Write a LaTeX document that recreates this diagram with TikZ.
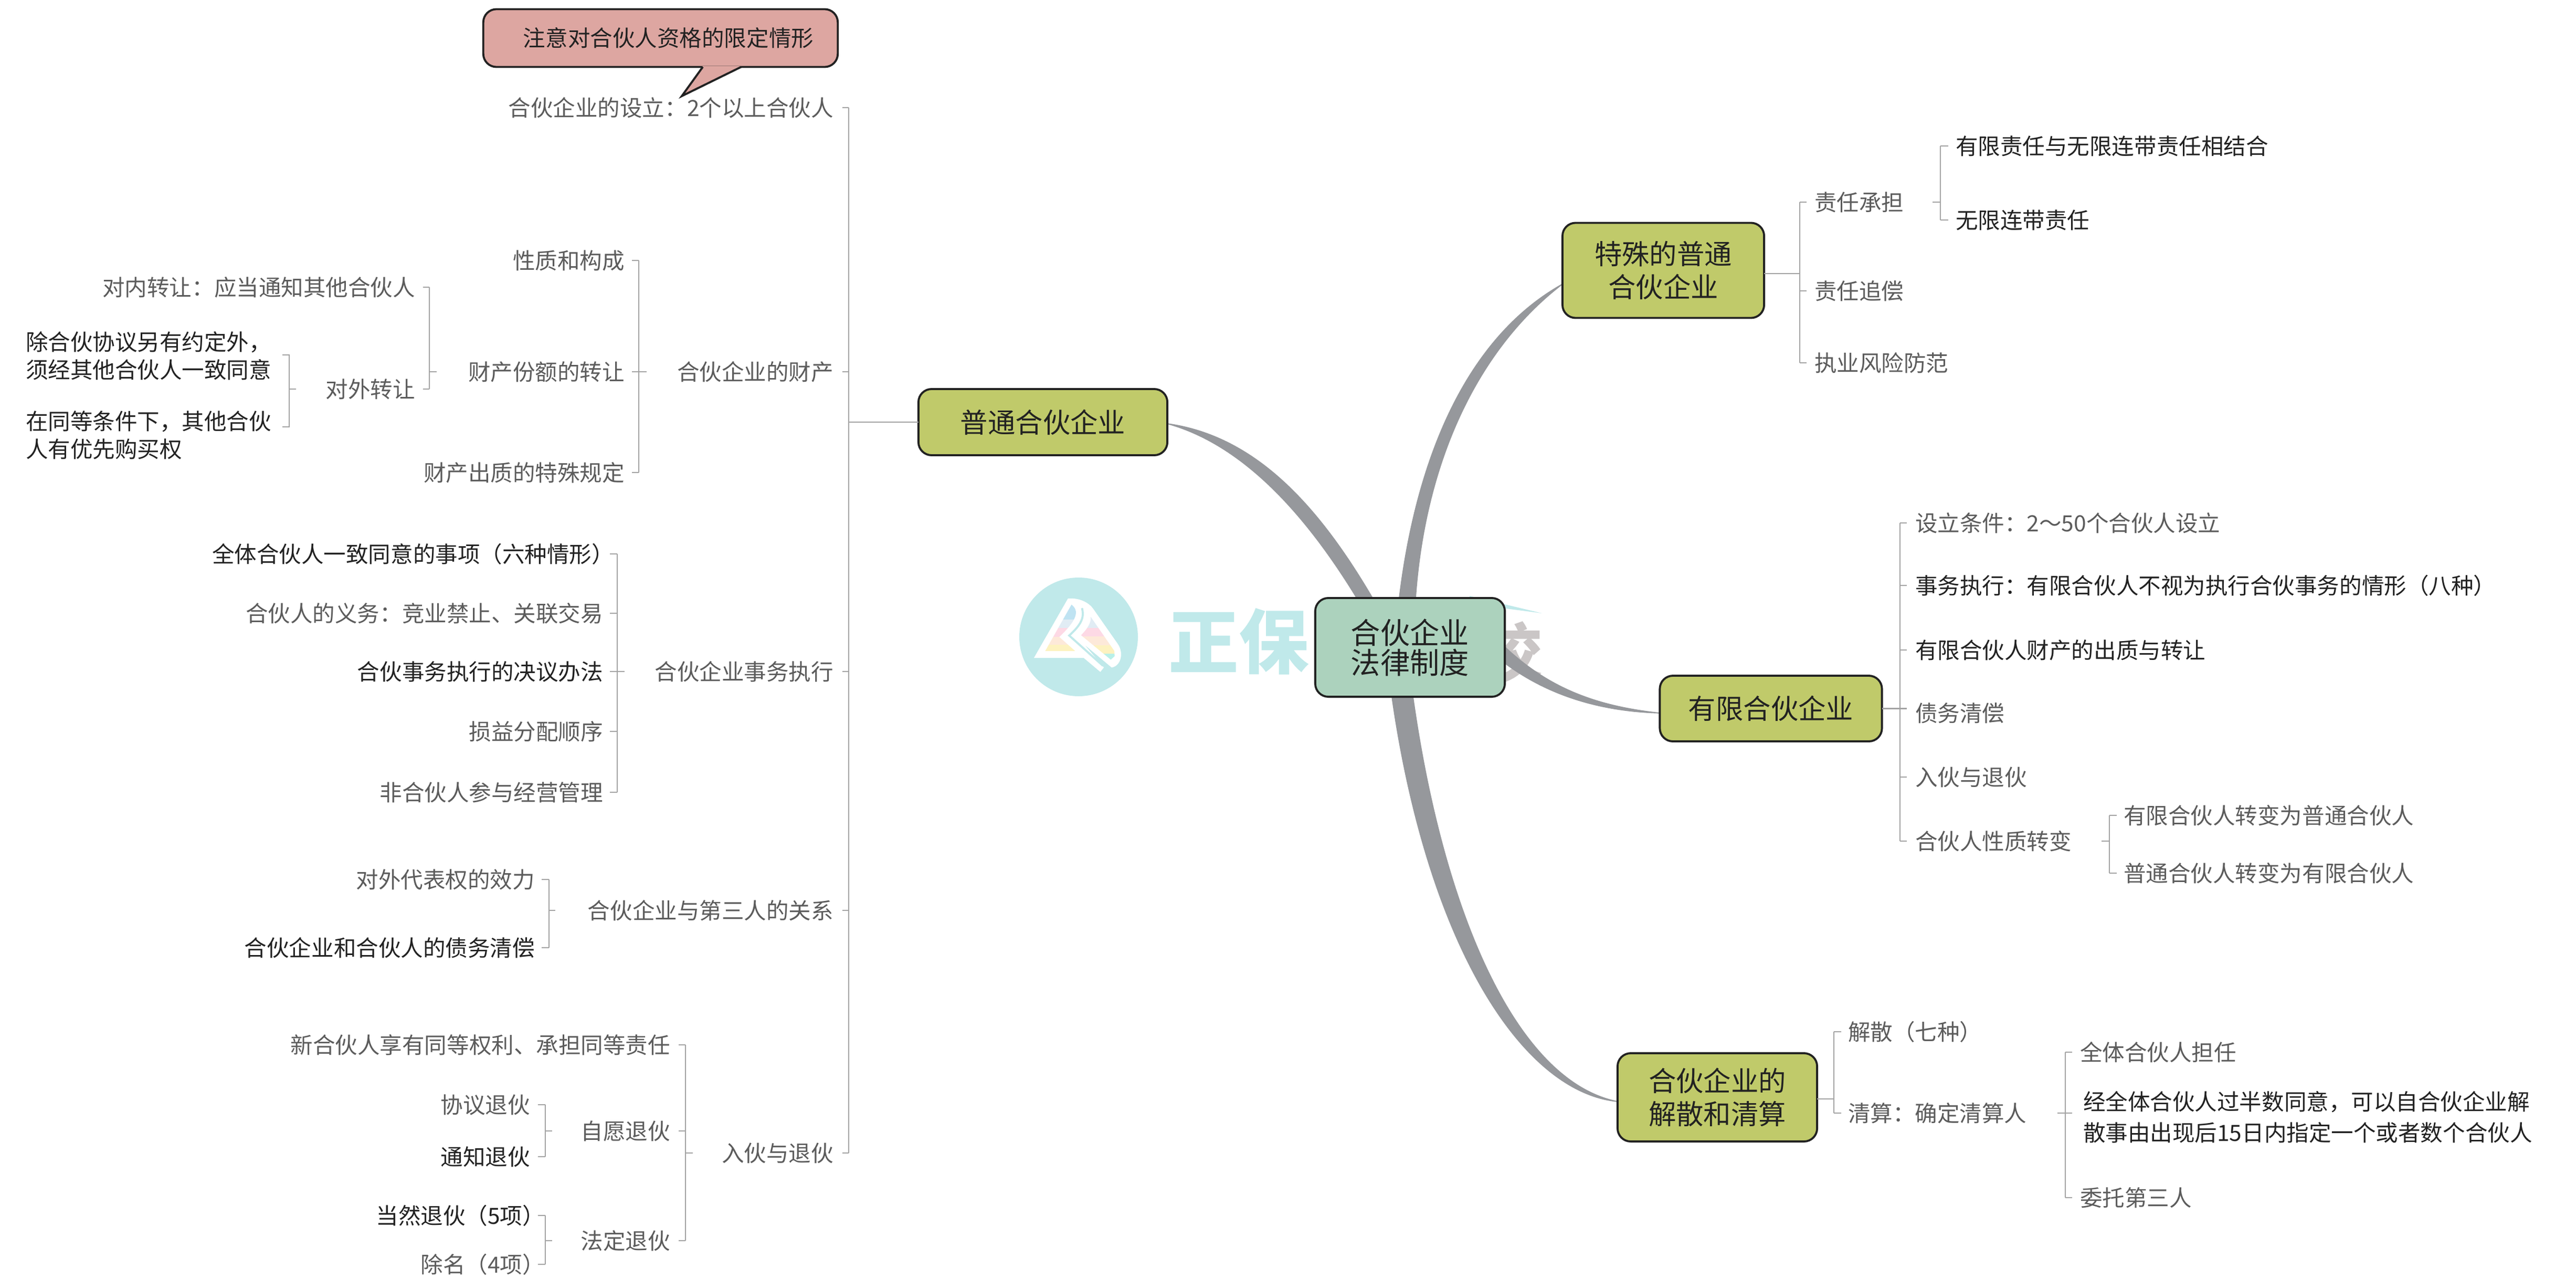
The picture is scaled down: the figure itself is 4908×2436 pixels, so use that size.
\documentclass[tikz,border=0pt]{standalone}
\usepackage{fontspec}
\setmainfont{Noto Sans CJK SC}
\pgfdeclarelayer{bg}
\pgfsetlayers{bg,main}
\definecolor{oliveb}{HTML}{C0CA6A}
\definecolor{rootb}{HTML}{ACD2BD}
\definecolor{noteb}{HTML}{DDA6A1}
\definecolor{edgeb}{HTML}{222222}
\definecolor{curveg}{HTML}{96989C}
\definecolor{linkg}{HTML}{A3A3A3}
\definecolor{wmc}{HTML}{C0E9EA}
\definecolor{wmg}{HTML}{CAC6C6}
\definecolor{lighttxt}{HTML}{5C5C5C}
\definecolor{darktxt}{HTML}{222222}
\definecolor{bandA}{HTML}{BFE3F2}
\definecolor{bandB}{HTML}{E1ECF4}
\definecolor{bandC}{HTML}{FDD9E5}
\definecolor{bandD}{HTML}{FDE9D9}
\definecolor{bandE}{HTML}{FDF2C0}
\definecolor{bandF}{HTML}{B9F0E8}
\tikzset{
  link/.style={draw=linkg,line width=.75pt},
  curve/.style={fill=curveg,draw=curveg,line width=.5pt},
  base/.style={inner sep=0pt,outer sep=0pt,font=\fontsize{12.1}{15}\selectfont,text height=.34cm,text depth=.02cm},
  le/.style={base,text=lighttxt,anchor=east},
  de/.style={base,text=darktxt,anchor=east},
  lw/.style={base,text=lighttxt,anchor=west},
  dw/.style={base,text=darktxt,anchor=west},
  box/.style={draw=edgeb,line width=1.1pt,rounded corners=.25cm,inner sep=0pt,outer sep=0pt,align=center,text=darktxt},
  branch/.style={box,fill=oliveb,font=\fontsize{14.9}{17.9}\selectfont},
  rootbox/.style={box,fill=rootb,font=\fontsize{16}{16.2}\selectfont},
  notebox/.style={box,fill=noteb,font=\fontsize{12.1}{15}\selectfont},
}
% spine, stub tip x-offset list: draw stubs to the left of a spine for children, to the right for the parent
\newcommand{\lbr}[3]{%
  \draw[link] (#3.east -| #1) -- (#2.east -| #1);
}
\begin{document}
\begin{tikzpicture}[x=.01cm,y=-.01cm]
\useasboundingbox (0,0) rectangle (4908,2436);
% ---------- boxes
\node[rootbox,minimum width=3.61cm,minimum height=1.88cm] (root) at (2686.5,1233) {合伙企业\\法律制度};
\node[branch,minimum width=4.74cm,minimum height=1.26cm] (gen) at (1987,804) {普通合伙企业};
\node[branch,minimum width=3.84cm,minimum height=1.81cm] (spec) at (3169,515) {特殊的普通\\合伙企业};
\node[branch,minimum width=4.23cm,minimum height=1.25cm] (ltd) at (3374,1349.5) {有限合伙企业};
\node[branch,minimum width=3.80cm,minimum height=1.68cm] (diss) at (3272,2090) {合伙企业的\\解散和清算};
% ---------- left level 1
\node[le] (a1) at (1588,205) {合伙企业的设立：2个以上合伙人};
\node[le] (a2) at (1588,708) {合伙企业的财产};
\node[le] (a3) at (1588,1279) {合伙企业事务执行};
\node[le] (a4) at (1588,1734) {合伙企业与第三人的关系};
\node[le] (a5) at (1588,2196) {入伙与退伙};
% callout
\node[notebox,minimum width=6.75cm,minimum height=1.10cm] (note) at (1258.5,72.5) {\hspace{.3cm}注意对合伙人资格的限定情形};
% property
\node[le] (b1) at (1190,496) {性质和构成};
\node[le] (b2) at (1190,708) {财产份额的转让};
\node[le] (b3) at (1190,900) {财产出质的特殊规定};
\node[le] (c1) at (791,547) {对内转让：应当通知其他合伙人};
\node[le] (c2) at (791,741) {对外转让};
\node[dw,align=left,text height=,text depth=] (d1) at (49,678) {除合伙协议另有约定外，\\须经其他合伙人一致同意};
\node[dw,align=left,text height=,text depth=] (d2) at (49,829) {在同等条件下，其他合伙\\人有优先购买权};
% affairs
\node[de] (e1) at (1170,1055) {全体合伙人一致同意的事项（六种情形）};
\node[le] (e2) at (1149,1168) {合伙人的义务：竞业禁止、关联交易};
\node[de] (e3) at (1149,1279) {合伙事务执行的决议办法};
\node[le] (e4) at (1149,1393) {损益分配顺序};
\node[le] (e5) at (1149,1509) {非合伙人参与经营管理};
% third party
\node[le] (f1) at (1019,1675) {对外代表权的效力};
\node[de] (f2) at (1019,1805) {合伙企业和合伙人的债务清偿};
% entry / exit
\node[le] (g1) at (1277,1990) {新合伙人享有同等权利、承担同等责任};
\node[le] (g2) at (1277,2154) {自愿退伙};
\node[le] (g3) at (1277,2363) {法定退伙};
\node[le] (h1) at (1010,2104) {协议退伙};
\node[de] (h2) at (1010,2203) {通知退伙};
\node[de] (i1) at (1038,2315) {当然退伙（5项）};
\node[le] (i2) at (1038,2408) {除名（4项）};
% ---------- right: special
\node[lw] (s1) at (3457,385) {责任承担};
\node[lw] (s2) at (3457,554) {责任追偿};
\node[lw] (s3) at (3457,691) {执业风险防范};
\node[dw] (s4) at (3726,278) {有限责任与无限连带责任相结合};
\node[dw] (s5) at (3726,419) {无限连带责任};
% ---------- right: limited
\node[lw] (t1) at (3649,996) {设立条件：2～50个合伙人设立};
\node[dw] (t2) at (3649,1115) {事务执行：有限合伙人不视为执行合伙事务的情形（八种）};
\node[dw] (t3) at (3649,1238) {有限合伙人财产的出质与转让};
\node[lw] (t4) at (3649,1358) {债务清偿};
\node[lw] (t5) at (3649,1480) {入伙与退伙};
\node[lw] (t6) at (3649,1602) {合伙人性质转变};
\node[lw] (t7) at (4046,1553) {有限合伙人转变为普通合伙人};
\node[lw] (t8) at (4046,1663) {普通合伙人转变为有限合伙人};
% ---------- right: dissolution
\node[lw] (u1) at (3521,1965) {解散（七种）};
\node[lw] (u2) at (3521,2120) {清算：确定清算人};
\node[lw] (u3) at (3963,2004) {全体合伙人担任};
\node[dw,align=left,font=\fontsize{12.1}{16.8}\selectfont,text height=,text depth=] (u4) at (3969,2128) {经全体合伙人过半数同意，可以自合伙企业解\\散事由出现后15日内指定一个或者数个合伙人};
\node[lw] (u5) at (3963,2281) {委托第三人};
% ---------- callout tail
\fill[noteb] (1339,126) -- (1299,183) -- (1412,126) -- cycle;
\draw[edgeb,line width=1.1pt,line join=miter] (1339,127.5) -- (1299,183) -- (1412,127.5);
% ---------- tree links, left
\coordinate (sp0) at (1617,0);
\draw[link] (a1.east -| sp0) -- (a5.east -| sp0);
\foreach \c in {a1,a2,a3,a4,a5}{\draw[link] (\c.east -| sp0) -- ++(-12,0);}
\draw[link] (gen.west) -- (gen.west -| sp0);
\coordinate (sp1) at (1217,0);
\draw[link] (b1.east -| sp1) -- (b3.east -| sp1);
\foreach \c in {b1,b2,b3}{\draw[link] (\c.east -| sp1) -- ++(-13,0);}
\draw[link] (a2.east -| sp1) -- ++(15,0);
\coordinate (sp2) at (818,0);
\draw[link] (c1.east -| sp2) -- (c2.east -| sp2);
\foreach \c in {c1,c2}{\draw[link] (\c.east -| sp2) -- ++(-12,0);}
\draw[link] (b2.east -| sp2) -- ++(14,0);
\coordinate (sp3) at (551,0);
\draw[link] (c2.east -| sp3) -- ++(13,0);
\coordinate (d1s) at (538,676);
\coordinate (d2s) at (538,813);
\draw[link] (d1s) -| (sp3 |- c2.east) |- (d2s);
\coordinate (sp4) at (1176,0);
\draw[link] (e1.east -| sp4) -- (e5.east -| sp4);
\foreach \c in {e1,e2,e3,e4,e5}{\draw[link] (\c.east -| sp4) -- ++(-14,0);}
\draw[link] (a3.east -| sp4) -- ++(14,0);
\coordinate (sp5) at (1046,0);
\draw[link] (f1.east -| sp5) -- (f2.east -| sp5);
\foreach \c in {f1,f2}{\draw[link] (\c.east -| sp5) -- ++(-14,0);}
\draw[link] (a4.east -| sp5) -- ++(12,0);
\coordinate (sp6) at (1306,0);
\draw[link] (g1.east -| sp6) -- (g3.east -| sp6);
\foreach \c in {g1,g2,g3}{\draw[link] (\c.east -| sp6) -- ++(-13,0);}
\draw[link] (a5.east -| sp6) -- ++(14,0);
\coordinate (sp7) at (1039,0);
\draw[link] (h1.east -| sp7) -- (h2.east -| sp7);
\foreach \c in {h1,h2}{\draw[link] (\c.east -| sp7) -- ++(-14,0);}
\draw[link] (g2.east -| sp7) -- ++(13,0);
\draw[link] (i1.east -| sp7) -- (i2.east -| sp7);
\foreach \c in {i1,i2}{\draw[link] (\c.east -| sp7) -- ++(-14,0);}
\draw[link] (g3.east -| sp7) -- ++(13,0);
% ---------- tree links, right
\coordinate (sq0) at (3429,0);
\draw[link] (s1.west -| sq0) -- (s3.west -| sq0);
\foreach \c in {s1,s2,s3}{\draw[link] (\c.west -| sq0) -- ++(13,0);}
\draw[link] ([yshift=-.06cm]spec.east) -- ([yshift=-.06cm]spec.east -| sq0);
\coordinate (sq1) at (3697,0);
\draw[link] (s4.west -| sq1) -- (s5.west -| sq1);
\foreach \c in {s4,s5}{\draw[link] (\c.west -| sq1) -- ++(15,0);}
\draw[link] (s1.east -| sq1) -- ++(-15,0);
\coordinate (sq2) at (3620,0);
\draw[link] (t1.west -| sq2) -- (t6.west -| sq2);
\foreach \c in {t1,t2,t3,t5,t6}{\draw[link] (\c.west -| sq2) -- ++(13,0);}
\draw[link] (ltd.east) -- (ltd.east -| sq2) -- ++(13,0);
\coordinate (sq3) at (4019,0);
\draw[link] (t7.west -| sq3) -- (t8.west -| sq3);
\foreach \c in {t7,t8}{\draw[link] (\c.west -| sq3) -- ++(14,0);}
\draw[link] (t6.east -| sq3) -- ++(-15,0);
\coordinate (sq4) at (3494,0);
\draw[link] (u1.west -| sq4) -- (u2.west -| sq4);
\foreach \c in {u1,u2}{\draw[link] (\c.west -| sq4) -- ++(14,0);}
\draw[link] ([yshift=-.03cm]diss.east) -- ([yshift=-.03cm]diss.east -| sq4);
\coordinate (sq5) at (3935,0);
\draw[link] (u3.west -| sq5) -- (u5.west -| sq5);
\foreach \c in {u3,u5}{\draw[link] (\c.west -| sq5) -- ++(13,0);}
\draw[link] (u2.west -| sq5) ++(-15,0) -- ++(28,0);
% ---------- background: watermark and tapered branches
\begin{pgfonlayer}{bg}
  \fill[wmc] (2055,1213) circle[radius=113];
  \begin{scope}[shift={(1920,1080)},x=.00333cm,y=-.00333cm]
    \fill[white] (150,520) -- (345,180) .. controls (420,175) and (470,210) .. (490,240)
      -- (630,440) .. controls (665,490) and (650,565) .. (595,575) -- (440,445)
      -- (550,575) -- (530,600) -- (435,520) -- cycle;
    \begin{scope}
      \clip (365,215) .. controls (410,250) and (400,300) .. (295,400) -- (385,480) -- (215,480) -- cycle;
      \fill[bandA] (150,200) rectangle (450,300);
      \fill[bandB] (150,300) rectangle (450,350);
      \fill[bandC] (150,350) rectangle (450,400);
      \fill[bandD] (150,400) rectangle (450,445);
      \fill[bandE] (150,445) rectangle (450,490);
    \end{scope}
    \begin{scope}
      \clip (475,285) -- (610,480) -- (612,510) -- (590,530) -- (420,390) .. controls (450,360) and (480,320) .. cycle;
      \fill[bandB] (400,280) rectangle (650,350);
      \fill[bandC] (400,350) rectangle (650,398);
      \fill[bandD] (400,398) rectangle (650,448);
      \fill[bandE] (400,448) rectangle (650,495);
      \fill[bandF] (400,495) rectangle (650,540);
    \end{scope}
    \draw[wmc,line width=1.1pt] (545,565) -- (352,392) .. controls (420,330) and (440,290) .. (425,235);
  \end{scope}
  \node[font=\fontsize{38}{40}\selectfont\bfseries,text=wmc,inner sep=0pt] (wm1) at (2360,1222) {正保};
  \node[font=\fontsize{34}{36}\selectfont\bfseries,text=wmg,inner sep=0pt] (wm2) at (2878,1241) {校};
  \fill[wmc] (2800,1135) -- (2938,1168) -- (2800,1150) -- cycle;
  % tapered curves from the root
  \coordinate (geA) at ([yshift=-.03cm]gen.east);
  \path[curve] (geA) .. controls (2390,830) and (2510,960) .. (2615,1139) -- (root.center) -- (2585,1139) .. controls (2500,1000) and (2380,850) .. (geA) -- cycle;
  \coordinate (spA) at (2977,541);
  \path[curve] (spA) .. controls (2800,640) and (2700,860) .. (2666,1139) -- (root.center) -- (2697,1139) .. controls (2715,880) and (2815,665) .. (spA) -- cycle;
  \coordinate (ltA) at (3162,1358);
  \path[curve] (ltA) .. controls (3040,1345) and (2950,1310) .. (2867,1232) -- (root.center) -- (2867,1263) .. controls (2950,1325) and (3050,1355) .. (ltA) -- cycle;
  \coordinate (diA) at (3082,2098);
  \path[curve] (diA) .. controls (2900,2080) and (2720,1800) .. (2652,1327) -- (root.center) -- (2692,1327) .. controls (2750,1740) and (2890,2060) .. (diA) -- cycle;
\end{pgfonlayer}
\end{tikzpicture}
\end{document}
